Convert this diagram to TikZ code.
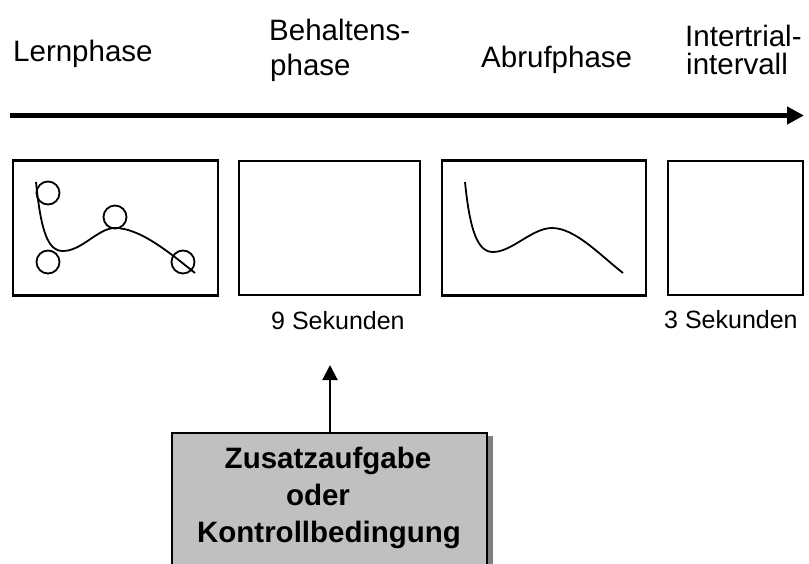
\documentclass[tikz,border=0pt]{standalone}
\usepackage{fontspec}
\setmainfont{Liberation Sans}
\usetikzlibrary{arrows.meta}
\definecolor{boxgray}{HTML}{C0C0C0}
\definecolor{shadowgray}{HTML}{808080}
\begin{document}
\begin{tikzpicture}[x=1pt,y=-1pt,
  lbl/.style={inner sep=0pt,anchor=base west,font=\fontsize{29.5}{35}\selectfont},
  smalllbl/.style={inner sep=0pt,anchor=base west,font=\fontsize{25}{29}\selectfont},
  boldlbl/.style={inner sep=0pt,anchor=base,font=\fontsize{29.5}{35}\selectfont\bfseries},
  frame/.style={draw,line width=2.2pt,rectangle,inner sep=0pt},
  curve/.style={line width=1.8pt},
  ring/.style={draw,circle,line width=1.8pt,minimum size=23pt,inner sep=0pt}]
\clip (0,0) rectangle (809,563);
% top labels
\node[lbl] (lern) at (13,61) {Lernphase};
\node[lbl] (beh1) at (269,40) {Behaltens-};
\node[lbl] (beh2) at (270,75) {phase};
\node[lbl] (abr) at (481,67) {Abrufphase};
\node[lbl] (int1) at (685,46) {Intertrial-};
\node[lbl] (int2) at (686,74) {intervall};
% time axis
\coordinate (axs) at (10,115.5);
\coordinate (axe) at (804,115.5);
\draw[line width=5.5pt,-{Triangle[length=17pt,width=17pt]}] (axs) -- (axe);
% frames
\node[frame,minimum width=205pt,minimum height=135pt] (f1) at (115.5,228) {};
\node[frame,minimum width=181pt,minimum height=134pt] (f2) at (329.5,228) {};
\node[frame,minimum width=204pt,minimum height=135pt] (f3) at (544,228) {};
\node[frame,minimum width=135pt,minimum height=134pt] (f4) at (735.5,228) {};
% curve in frame 1 with circles
\draw[curve] (36,182) .. controls (41,232) and (48,251) .. (63,251)
  .. controls (82,251) and (98,228) .. (115,228)
  .. controls (140,228) and (170,253) .. (195,273);
\node[ring] (c1) at (48,193) {};
\node[ring] (c2) at (115,217) {};
\node[ring] (c3) at (48,262) {};
\node[ring] (c4) at (183,262) {};
% curve in frame 3
\draw[curve] (465,182) .. controls (470,232) and (478,252) .. (493,252)
  .. controls (512,252) and (532,228) .. (552,228)
  .. controls (575,228) and (600,255) .. (623,273);
% durations
\node[smalllbl] (s9) at (271,329) {9 Sekunden};
\node[smalllbl] (s3) at (664,328) {3 Sekunden};
% grey box with shadow
\fill[shadowgray] (176,436) rectangle (493,600);
\node[draw,line width=1.5pt,fill=boxgray,rectangle,inner sep=0pt,
  minimum width=315pt,minimum height=170pt,anchor=north] (gbox) at (329.5,432) {};
\node[boldlbl] (t1) at (328,468) {Zusatzaufgabe};
\node[boldlbl] (t2) at (318,505) {oder};
\node[boldlbl] (t3) at (329,542) {Kontrollbedingung};
% arrow up
\coordinate (tip) at (330,365);
\draw[line width=2pt,-{Triangle[length=15pt,width=15pt]}] (gbox.north -| tip) -- (tip);
\end{tikzpicture}
\end{document}
